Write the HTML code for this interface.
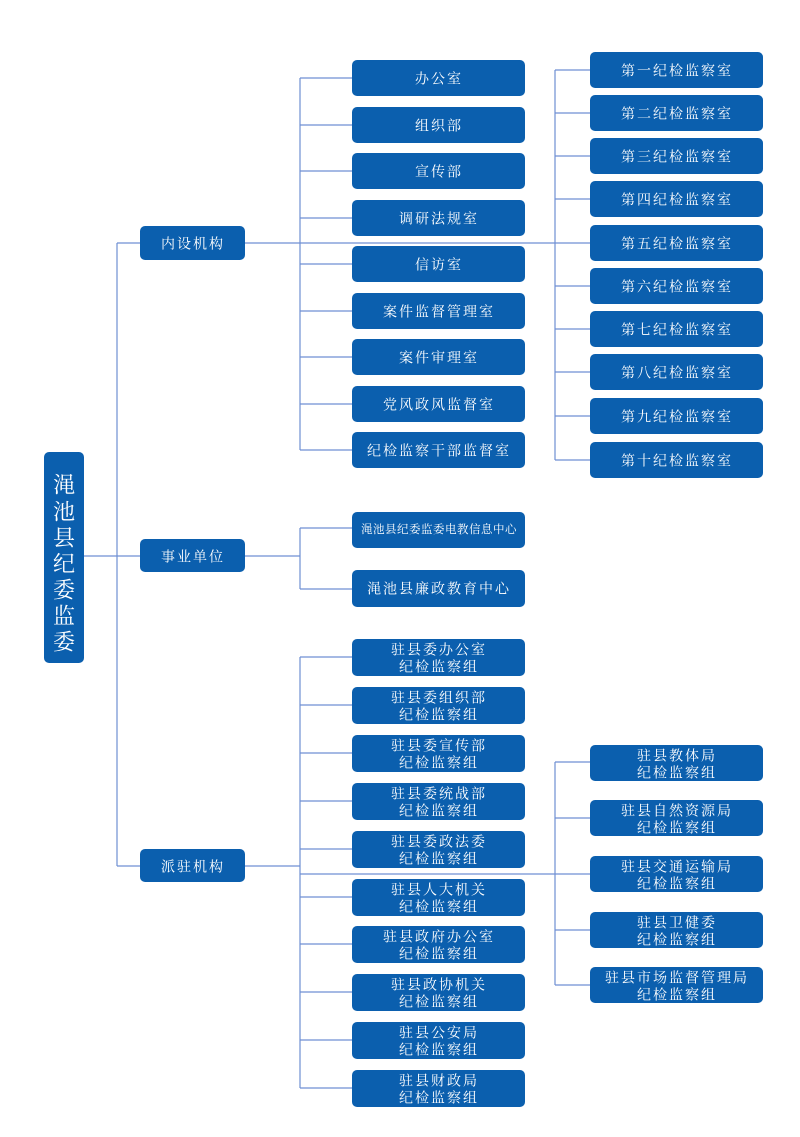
<!DOCTYPE html>
<html><head><meta charset="utf-8"><style>
html,body{margin:0;padding:0;background:#fff;}
svg{display:block;}
text{font-family:"Liberation Serif","Noto Serif CJK SC",serif;fill:#fff;font-size:14px;text-anchor:middle;dominant-baseline:central;letter-spacing:2px;transform:translateY(2px);}
rect{fill:#0b5fae;}
line,polyline{stroke:#6f8fd3;stroke-width:1.2;fill:none;}
</style></head><body>
<svg width="800" height="1137" viewBox="0 0 800 1137">
<line x1="84" y1="556" x2="140" y2="556"/>
<line x1="117" y1="243" x2="117" y2="866"/>
<line x1="117" y1="243" x2="140" y2="243"/>
<line x1="117" y1="866" x2="140" y2="866"/>
<line x1="245" y1="243" x2="590" y2="243"/>
<line x1="300" y1="78" x2="300" y2="450"/>
<line x1="300" y1="78" x2="352" y2="78"/>
<line x1="300" y1="125" x2="352" y2="125"/>
<line x1="300" y1="171" x2="352" y2="171"/>
<line x1="300" y1="218" x2="352" y2="218"/>
<line x1="300" y1="264" x2="352" y2="264"/>
<line x1="300" y1="311" x2="352" y2="311"/>
<line x1="300" y1="357" x2="352" y2="357"/>
<line x1="300" y1="404" x2="352" y2="404"/>
<line x1="300" y1="450" x2="352" y2="450"/>
<line x1="555" y1="70" x2="555" y2="460"/>
<line x1="555" y1="70" x2="590" y2="70"/>
<line x1="555" y1="113" x2="590" y2="113"/>
<line x1="555" y1="156" x2="590" y2="156"/>
<line x1="555" y1="199" x2="590" y2="199"/>
<line x1="555" y1="286" x2="590" y2="286"/>
<line x1="555" y1="329" x2="590" y2="329"/>
<line x1="555" y1="372" x2="590" y2="372"/>
<line x1="555" y1="416" x2="590" y2="416"/>
<line x1="555" y1="460" x2="590" y2="460"/>
<line x1="245" y1="556" x2="300" y2="556"/>
<line x1="300" y1="528" x2="300" y2="589"/>
<line x1="300" y1="528" x2="352" y2="528"/>
<line x1="300" y1="589" x2="352" y2="589"/>
<line x1="245" y1="866" x2="300" y2="866"/>
<line x1="300" y1="657" x2="300" y2="1088"/>
<line x1="300" y1="657" x2="352" y2="657"/>
<line x1="300" y1="705" x2="352" y2="705"/>
<line x1="300" y1="753" x2="352" y2="753"/>
<line x1="300" y1="801" x2="352" y2="801"/>
<line x1="300" y1="849" x2="352" y2="849"/>
<line x1="300" y1="897" x2="352" y2="897"/>
<line x1="300" y1="944" x2="352" y2="944"/>
<line x1="300" y1="992" x2="352" y2="992"/>
<line x1="300" y1="1040" x2="352" y2="1040"/>
<line x1="300" y1="1088" x2="352" y2="1088"/>
<line x1="300" y1="874" x2="590" y2="874"/>
<line x1="555" y1="762" x2="555" y2="985"/>
<line x1="555" y1="762" x2="590" y2="762"/>
<line x1="555" y1="818" x2="590" y2="818"/>
<line x1="555" y1="930" x2="590" y2="930"/>
<line x1="555" y1="985" x2="590" y2="985"/>

<rect x="44" y="452" width="40" height="211" rx="5"/>
<text x="64" y="483" style="font-size:22px;letter-spacing:0">渑</text><text x="64" y="510" style="font-size:22px;letter-spacing:0">池</text><text x="64" y="536" style="font-size:22px;letter-spacing:0">县</text><text x="64" y="562" style="font-size:22px;letter-spacing:0">纪</text><text x="64" y="588" style="font-size:22px;letter-spacing:0">委</text><text x="64" y="614" style="font-size:22px;letter-spacing:0">监</text><text x="64" y="640" style="font-size:22px;letter-spacing:0">委</text>

<rect x="140" y="226" width="105" height="34" rx="5"/><text x="193" y="243">内设机构</text>
<rect x="140" y="539" width="105" height="33" rx="5"/><text x="193" y="556">事业单位</text>
<rect x="140" y="849" width="105" height="33" rx="5"/><text x="193" y="866">派驻机构</text>

<rect x="352" y="60" width="173" height="36" rx="5"/><text x="439" y="78">办公室</text>
<rect x="352" y="107" width="173" height="36" rx="5"/><text x="439" y="125">组织部</text>
<rect x="352" y="153" width="173" height="36" rx="5"/><text x="439" y="171">宣传部</text>
<rect x="352" y="200" width="173" height="36" rx="5"/><text x="439" y="218">调研法规室</text>
<rect x="352" y="246" width="173" height="36" rx="5"/><text x="439" y="264">信访室</text>
<rect x="352" y="293" width="173" height="36" rx="5"/><text x="439" y="311">案件监督管理室</text>
<rect x="352" y="339" width="173" height="36" rx="5"/><text x="439" y="357">案件审理室</text>
<rect x="352" y="386" width="173" height="36" rx="5"/><text x="439" y="404">党风政风监督室</text>
<rect x="352" y="432" width="173" height="36" rx="5"/><text x="439" y="450">纪检监察干部监督室</text>

<rect x="590" y="52" width="173" height="36" rx="5"/><text x="677" y="70">第一纪检监察室</text>
<rect x="590" y="95" width="173" height="36" rx="5"/><text x="677" y="113">第二纪检监察室</text>
<rect x="590" y="138" width="173" height="36" rx="5"/><text x="677" y="156">第三纪检监察室</text>
<rect x="590" y="181" width="173" height="36" rx="5"/><text x="677" y="199">第四纪检监察室</text>
<rect x="590" y="225" width="173" height="36" rx="5"/><text x="677" y="243">第五纪检监察室</text>
<rect x="590" y="268" width="173" height="36" rx="5"/><text x="677" y="286">第六纪检监察室</text>
<rect x="590" y="311" width="173" height="36" rx="5"/><text x="677" y="329">第七纪检监察室</text>
<rect x="590" y="354" width="173" height="36" rx="5"/><text x="677" y="372">第八纪检监察室</text>
<rect x="590" y="398" width="173" height="36" rx="5"/><text x="677" y="416">第九纪检监察室</text>
<rect x="590" y="442" width="173" height="36" rx="5"/><text x="677" y="460">第十纪检监察室</text>

<rect x="352" y="512" width="173" height="36" rx="5"/><text x="439" y="528" style="font-size:11.5px;letter-spacing:0.5px">渑池县纪委监委电教信息中心</text>
<rect x="352" y="570" width="173" height="37" rx="5"/><text x="439" y="588">渑池县廉政教育中心</text>

<rect x="352" y="639" width="173" height="37" rx="5"/><text x="439" y="649">驻县委办公室</text><text x="439" y="666">纪检监察组</text>
<rect x="352" y="687" width="173" height="37" rx="5"/><text x="439" y="697">驻县委组织部</text><text x="439" y="714">纪检监察组</text>
<rect x="352" y="735" width="173" height="37" rx="5"/><text x="439" y="745">驻县委宣传部</text><text x="439" y="762">纪检监察组</text>
<rect x="352" y="783" width="173" height="37" rx="5"/><text x="439" y="793">驻县委统战部</text><text x="439" y="810">纪检监察组</text>
<rect x="352" y="831" width="173" height="37" rx="5"/><text x="439" y="841">驻县委政法委</text><text x="439" y="858">纪检监察组</text>
<rect x="352" y="879" width="173" height="37" rx="5"/><text x="439" y="889">驻县人大机关</text><text x="439" y="906">纪检监察组</text>
<rect x="352" y="926" width="173" height="37" rx="5"/><text x="439" y="936">驻县政府办公室</text><text x="439" y="953">纪检监察组</text>
<rect x="352" y="974" width="173" height="37" rx="5"/><text x="439" y="984">驻县政协机关</text><text x="439" y="1001">纪检监察组</text>
<rect x="352" y="1022" width="173" height="37" rx="5"/><text x="439" y="1032">驻县公安局</text><text x="439" y="1049">纪检监察组</text>
<rect x="352" y="1070" width="173" height="37" rx="5"/><text x="439" y="1080">驻县财政局</text><text x="439" y="1097">纪检监察组</text>

<rect x="590" y="745" width="173" height="36" rx="5"/><text x="677" y="755">驻县教体局</text><text x="677" y="772">纪检监察组</text>
<rect x="590" y="800" width="173" height="36" rx="5"/><text x="677" y="810">驻县自然资源局</text><text x="677" y="827">纪检监察组</text>
<rect x="590" y="856" width="173" height="36" rx="5"/><text x="677" y="866">驻县交通运输局</text><text x="677" y="883">纪检监察组</text>
<rect x="590" y="912" width="173" height="36" rx="5"/><text x="677" y="922">驻县卫健委</text><text x="677" y="939">纪检监察组</text>
<rect x="590" y="967" width="173" height="36" rx="5"/><text x="677" y="977">驻县市场监督管理局</text><text x="677" y="994">纪检监察组</text>
</svg>
</body></html>
